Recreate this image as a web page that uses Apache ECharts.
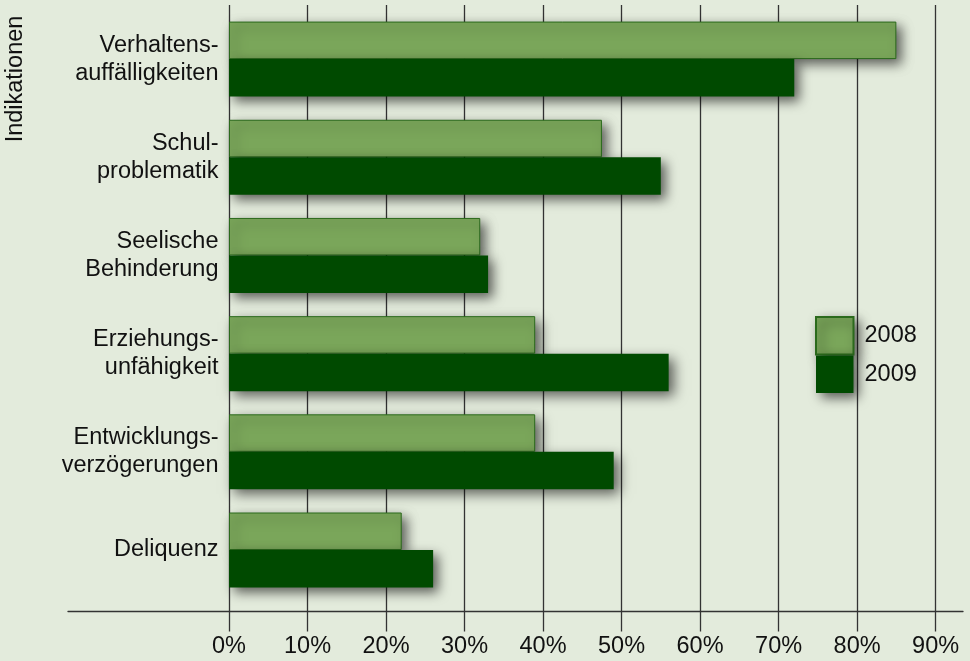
<!DOCTYPE html>
<html><head><meta charset="utf-8">
<script src="https://cdn.jsdelivr.net/npm/echarts@6/dist/echarts.min.js"></script>
<style>html,body{margin:0;padding:0;background:#e3ebdc;}#c{width:970px;height:661px;}</style>
</head><body><div id="c"></div>
<script>
const categories = ['Verhaltens-\nauffälligkeiten','Schul-\nproblematik','Seelische\nBehinderung','Erziehungs-\nunfähigkeit','Entwicklungs-\nverzögerungen','Deliquenz'];
const values2008 = [85, 47.5, 32, 39, 39, 22];
const values2009 = [72, 55, 33, 56, 49, 26];
const seriesNames = ['2008','2009'];
const axisTitle = 'Indikationen';

const FONT = '"Liberation Sans", Arial, Helvetica, sans-serif';
const TXT = '#111111';
const LINE = '#333333';
const chart = echarts.init(document.getElementById('c'), null, {renderer:'canvas'});
const shadow = {shadowBlur: 12, shadowOffsetX: 5, shadowOffsetY: 5, shadowColor: 'rgba(0,0,0,0.6)'};
chart.setOption({
  backgroundColor: '#e3ebdc',
  animation: false,
  textStyle: {fontFamily: FONT},
  graphic: [{
    type: 'text', x: 15.8, y: 79, rotation: Math.PI/2,
    style: {text: axisTitle, font: '23.5px ' + FONT, fill: TXT, align: 'center', verticalAlign: 'middle'}
  }],
  legend: {
    orient: 'vertical', left: 815, top: 316, itemGap: 0, padding: 0,
    itemWidth: 37.5, itemHeight: 37.5, icon: 'rect',
    data: seriesNames,
    textStyle: {fontSize: 23.5, color: TXT, fontFamily: FONT, padding: [0,0,0,6]},
    itemStyle: shadow
  },
  grid: [
    {left: 229, right: 34.4, top: 10, bottom: 61.9},
    {left: 229, right: 34.4, top: 5, bottom: 49.5},
    {left: 68, right: 7, top: 5, bottom: 49.5}
  ],
  xAxis: [
    {gridIndex: 0, type: 'value', min: 0, max: 90, show: false},
    {gridIndex: 1, type: 'value', min: 0, max: 90, interval: 10,
     axisLine: {show: false},
     axisTick: {show: true, length: 20, lineStyle: {color: LINE, width: 1.3}},
     splitLine: {show: true, lineStyle: {color: LINE, width: 1.3}},
     axisLabel: {formatter: '{value}%', fontSize: 23.5, color: TXT, margin: 23, fontFamily: FONT}},
    {gridIndex: 2, type: 'value', min: 0, max: 1,
     axisLine: {show: true, onZero: false, lineStyle: {color: LINE, width: 1.3}},
     axisTick: {show: false}, axisLabel: {show: false}, splitLine: {show: false}}
  ],
  yAxis: [
    {gridIndex: 0, type: 'category', data: categories, inverse: true,
     axisLine: {show: false}, axisTick: {show: false}, splitLine: {show: false},
     axisLabel: {fontSize: 23.5, lineHeight: 28, color: TXT, margin: 10.5, fontFamily: FONT}},
    {gridIndex: 1, type: 'value', show: false},
    {gridIndex: 2, type: 'value', show: false}
  ],
  series: [
    {name: seriesNames[0], type: 'bar', xAxisIndex: 0, yAxisIndex: 0, data: values2008,
     barWidth: 37.5, barGap: '0%',
     itemStyle: Object.assign({color: '#7aa65a', borderColor: '#2b6a1c', borderWidth: 1}, shadow)},
    {name: seriesNames[1], type: 'bar', xAxisIndex: 0, yAxisIndex: 0, data: values2009,
     barWidth: 37.5, barGap: '0%',
     itemStyle: Object.assign({color: '#004a00'}, shadow)}
  ]
});
</script></body></html>
